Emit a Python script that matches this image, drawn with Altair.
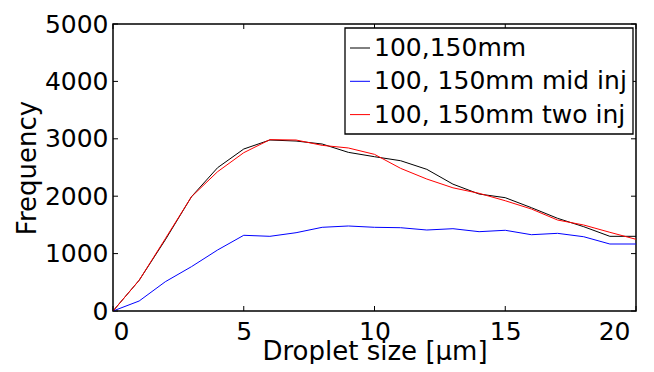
import altair as alt
import pandas as pd

# ---- data ----
sizes = list(range(21))
black_vals = [0, 535, 1240, 1990, 2497, 2822, 2979, 2961, 2909, 2764, 2688,
              2618, 2468, 2210, 2038, 1974, 1800, 1615, 1469, 1301, 1301]
blue_vals = [0, 174, 510, 772, 1063, 1319, 1301, 1364, 1458, 1481, 1458,
             1451, 1411, 1434, 1382, 1406, 1329, 1353, 1294, 1167, 1167]
red_vals = [0, 535, 1260, 1990, 2427, 2758, 2985, 2979, 2886, 2840, 2729,
            2485, 2299, 2146, 2050, 1921, 1777, 1585, 1498, 1371, 1249]
series_names = ["100,150mm", "100, 150mm mid inj", "100, 150mm two inj"]
series_colors = ["#000000", "#0000ff", "#ff0000"]
x_ticks = [0, 5, 10, 15, 20]
y_ticks = [0, 1000, 2000, 3000, 4000, 5000]

rows = []
for name, vals in zip(series_names, [black_vals, blue_vals, red_vals]):
    for s, v in zip(sizes, vals):
        rows.append({"size": s, "freq": v, "series": name})
df = pd.DataFrame(rows)
xt = pd.DataFrame({"size": x_ticks})
yt = pd.DataFrame({"freq": y_ticks})

W, H = 523, 287
FONT = "DejaVu Sans"
TICK = 5

xscale = alt.Scale(domain=[0, 20], nice=False, zero=False)
yscale = alt.Scale(domain=[0, 5000], nice=False)
cscale = alt.Scale(domain=series_names, range=series_colors)

lines = alt.Chart(df).mark_line(strokeWidth=1, clip=True).encode(
    x=alt.X("size:Q", scale=xscale,
            axis=alt.Axis(values=x_ticks, title="Droplet size [μm]", format="d",
                          labelBaseline="alphabetic", labelPadding=28,
                          labelOffset={"condition": {"test": "datum.value == 20", "value": -6},
                                       "value": 0},
                          titleX=W / 2, titleY=48, titleAlign="center",
                          titleBaseline="alphabetic")),
    y=alt.Y("freq:Q", scale=yscale,
            axis=alt.Axis(values=y_ticks, title="Frequency", labelPadding=5, format="d",
                          titleAngle=270, titleX=-78, titleY=H / 2,
                          titleAlign="center", titleBaseline="alphabetic")),
    color=alt.Color("series:N", scale=cscale, legend=None),
)

bottom_ticks = alt.Chart(xt).mark_rule(color="black", strokeWidth=1).encode(
    x=alt.X("size:Q", scale=xscale), y=alt.value(H), y2=alt.value(H - TICK))
top_ticks = alt.Chart(xt).mark_rule(color="black", strokeWidth=1).encode(
    x=alt.X("size:Q", scale=xscale), y=alt.value(0), y2=alt.value(TICK))
left_ticks = alt.Chart(yt).mark_rule(color="black", strokeWidth=1).encode(
    y=alt.Y("freq:Q", scale=yscale), x=alt.value(0), x2=alt.value(TICK))
right_ticks = alt.Chart(yt).mark_rule(color="black", strokeWidth=1).encode(
    y=alt.Y("freq:Q", scale=yscale), x=alt.value(W), x2=alt.value(W - TICK))

# ---- legend box (drawn inside the plot, top right) ----
LX0, LX1, LY0, LY1 = 232, 520, 4, 110
ROW0, ROWSTEP = 20, 33.3
one = pd.DataFrame({"k": [0]})
legend_layers = [
    alt.Chart(one).mark_rect(fill="white", stroke="black", strokeWidth=1.3).encode(
        x=alt.value(LX0), x2=alt.value(LX1), y=alt.value(LY0), y2=alt.value(LY1))
]
for i, (name, col) in enumerate(zip(series_names, series_colors)):
    yy = LY0 + ROW0 + ROWSTEP * i
    leg = pd.DataFrame({"series": [name]})
    legend_layers.append(
        alt.Chart(leg).mark_rule(strokeWidth=1).encode(
            x=alt.value(LX0 + 5), x2=alt.value(LX0 + 25), y=alt.value(yy),
            color=alt.Color("series:N", scale=cscale, legend=None)))
    legend_layers.append(
        alt.Chart(leg).mark_text(align="left", baseline="middle", font=FONT,
                                 fontSize=25, color="black").encode(
            x=alt.value(LX0 + 29), y=alt.value(yy), text="series:N"))

chart = alt.layer(lines, bottom_ticks, top_ticks, left_ticks, right_ticks,
                  *legend_layers).properties(
    width=W, height=H,
    autosize=alt.AutoSizeParams(type="none"),
    padding={"left": 105, "top": 16, "right": 10, "bottom": 53},
    background="white",
).configure_view(
    stroke="black", strokeWidth=1.5
).configure_axis(
    grid=False, domain=False, ticks=False, tickSize=0,
    labelFont=FONT, labelFontSize=25, labelColor="black",
    titleFont=FONT, titleFontSize=26, titleFontWeight="normal", titleColor="black",
)

chart.save("out.html", embed_options={"renderer": "svg", "actions": False})
